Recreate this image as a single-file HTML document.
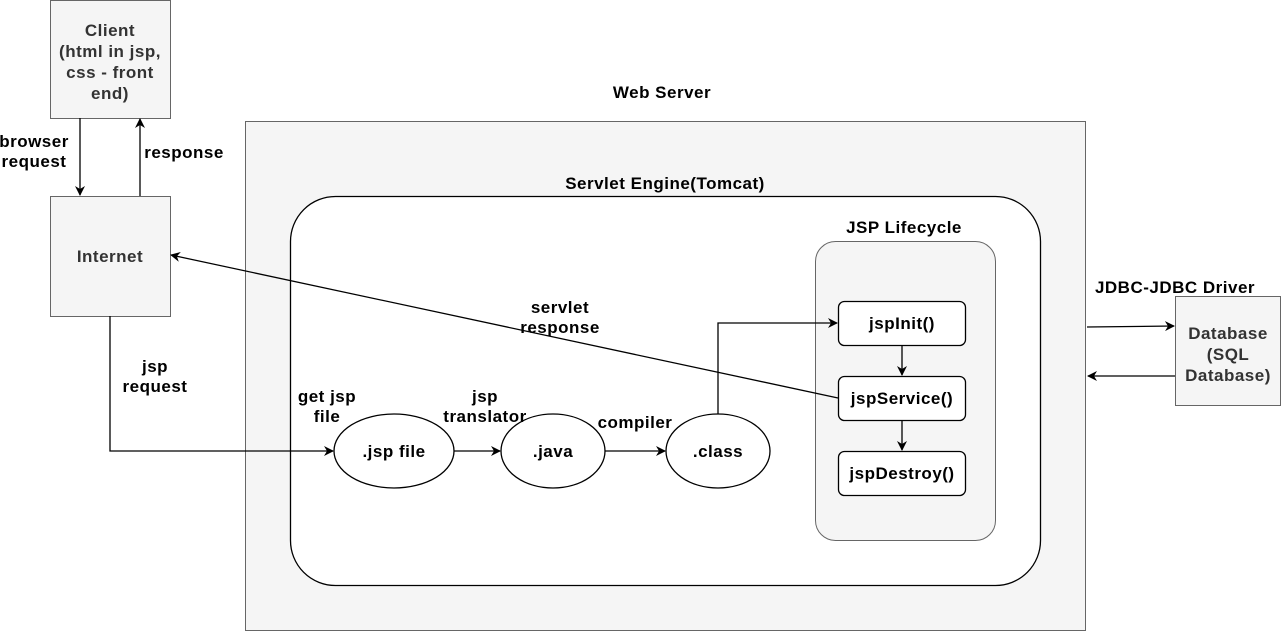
<!DOCTYPE html>
<html><head><meta charset="utf-8"><style>
html,body{margin:0;padding:0;background:#fff;}
svg{display:block;}
text{font-family:"Liberation Sans",Arial,sans-serif;font-weight:bold;font-size:17px;letter-spacing:0.5px;text-anchor:middle;fill:#000;}
.g{fill:#333;}
</style></head><body>
<svg width="1281" height="632" viewBox="0 0 1281 632">
<defs><marker id="a" markerWidth="10" markerHeight="10" refX="9" refY="5" orient="auto" markerUnits="userSpaceOnUse"><path d="M0,0 L10,5 L0,10 L3,5 z" fill="#000"/></marker></defs>
<rect x="50.5" y="0.5" width="120" height="118" fill="#f5f5f5" stroke="#666"/>
<text class="g" x="110" y="36">Client</text>
<text class="g" x="110" y="57">(html in jsp,</text>
<text class="g" x="110" y="78">css - front</text>
<text class="g" x="110" y="99">end)</text>
<rect x="50.5" y="196.5" width="120" height="120" fill="#f5f5f5" stroke="#666"/>
<text class="g" x="110" y="262">Internet</text>
<line x1="80" y1="118" x2="80" y2="195" stroke="#000" stroke-width="1.3" marker-end="url(#a)"/>
<line x1="140" y1="196" x2="140" y2="119" stroke="#000" stroke-width="1.3" marker-end="url(#a)"/>
<text x="34" y="147">browser</text><text x="34" y="167">request</text>
<text x="184" y="158">response</text>
<text x="662" y="98">Web Server</text>
<rect x="245.5" y="121.5" width="840" height="509" fill="#f5f5f5" stroke="#666"/>
<text x="665" y="189">Servlet Engine(Tomcat)</text>
<rect x="290.5" y="196.5" width="750" height="389" rx="45" fill="#fff" stroke="#000" stroke-width="1.3"/>
<text x="904" y="233">JSP Lifecycle</text>
<rect x="815.5" y="241.5" width="180" height="299" rx="20" fill="#f5f5f5" stroke="#666"/>
<rect x="838.5" y="301.5" width="127" height="44" rx="6" fill="#fff" stroke="#000" stroke-width="1.3"/>
<text x="902" y="329">jspInit()</text>
<rect x="838.5" y="376.5" width="127" height="44" rx="6" fill="#fff" stroke="#000" stroke-width="1.3"/>
<text x="902" y="404">jspService()</text>
<rect x="838.5" y="451.5" width="127" height="44" rx="6" fill="#fff" stroke="#000" stroke-width="1.3"/>
<text x="902" y="479">jspDestroy()</text>
<line x1="902" y1="345" x2="902" y2="375" stroke="#000" stroke-width="1.3" marker-end="url(#a)"/>
<line x1="902" y1="420" x2="902" y2="450" stroke="#000" stroke-width="1.3" marker-end="url(#a)"/>
<ellipse cx="394" cy="451" rx="60" ry="37" fill="#fff" stroke="#000" stroke-width="1.3"/>
<text x="394" y="457">.jsp file</text>
<ellipse cx="553" cy="451" rx="52" ry="37" fill="#fff" stroke="#000" stroke-width="1.3"/>
<text x="553" y="457">.java</text>
<ellipse cx="718" cy="451" rx="52" ry="37" fill="#fff" stroke="#000" stroke-width="1.3"/>
<text x="718" y="457">.class</text>
<polyline points="110,316 110,451 333,451" fill="none" stroke="#000" stroke-width="1.3" marker-end="url(#a)"/>
<line x1="454" y1="451" x2="500" y2="451" stroke="#000" stroke-width="1.3" marker-end="url(#a)"/>
<line x1="605" y1="451" x2="665" y2="451" stroke="#000" stroke-width="1.3" marker-end="url(#a)"/>
<polyline points="718,414 718,323 837,323" fill="none" stroke="#000" stroke-width="1.3" marker-end="url(#a)"/>
<text x="155" y="372">jsp</text><text x="155" y="392">request</text>
<text x="327" y="402">get jsp</text><text x="327" y="422">file</text>
<text x="485" y="402">jsp</text><text x="485" y="422">translator</text>
<text x="635" y="428">compiler</text>
<line x1="838" y1="398" x2="171" y2="255" stroke="#000" stroke-width="1.3" marker-end="url(#a)"/>
<text x="560" y="313">servlet</text><text x="560" y="333">response</text>
<text x="1175" y="293">JDBC-JDBC Driver</text>
<rect x="1175.5" y="296.5" width="105" height="109" fill="#f5f5f5" stroke="#666"/>
<text class="g" x="1228" y="339">Database</text>
<text class="g" x="1228" y="360">(SQL</text>
<text class="g" x="1228" y="381">Database)</text>
<line x1="1087" y1="327" x2="1174" y2="326" stroke="#000" stroke-width="1.3" marker-end="url(#a)"/>
<line x1="1175" y1="376" x2="1088" y2="376" stroke="#000" stroke-width="1.3" marker-end="url(#a)"/>
</svg>
</body></html>
